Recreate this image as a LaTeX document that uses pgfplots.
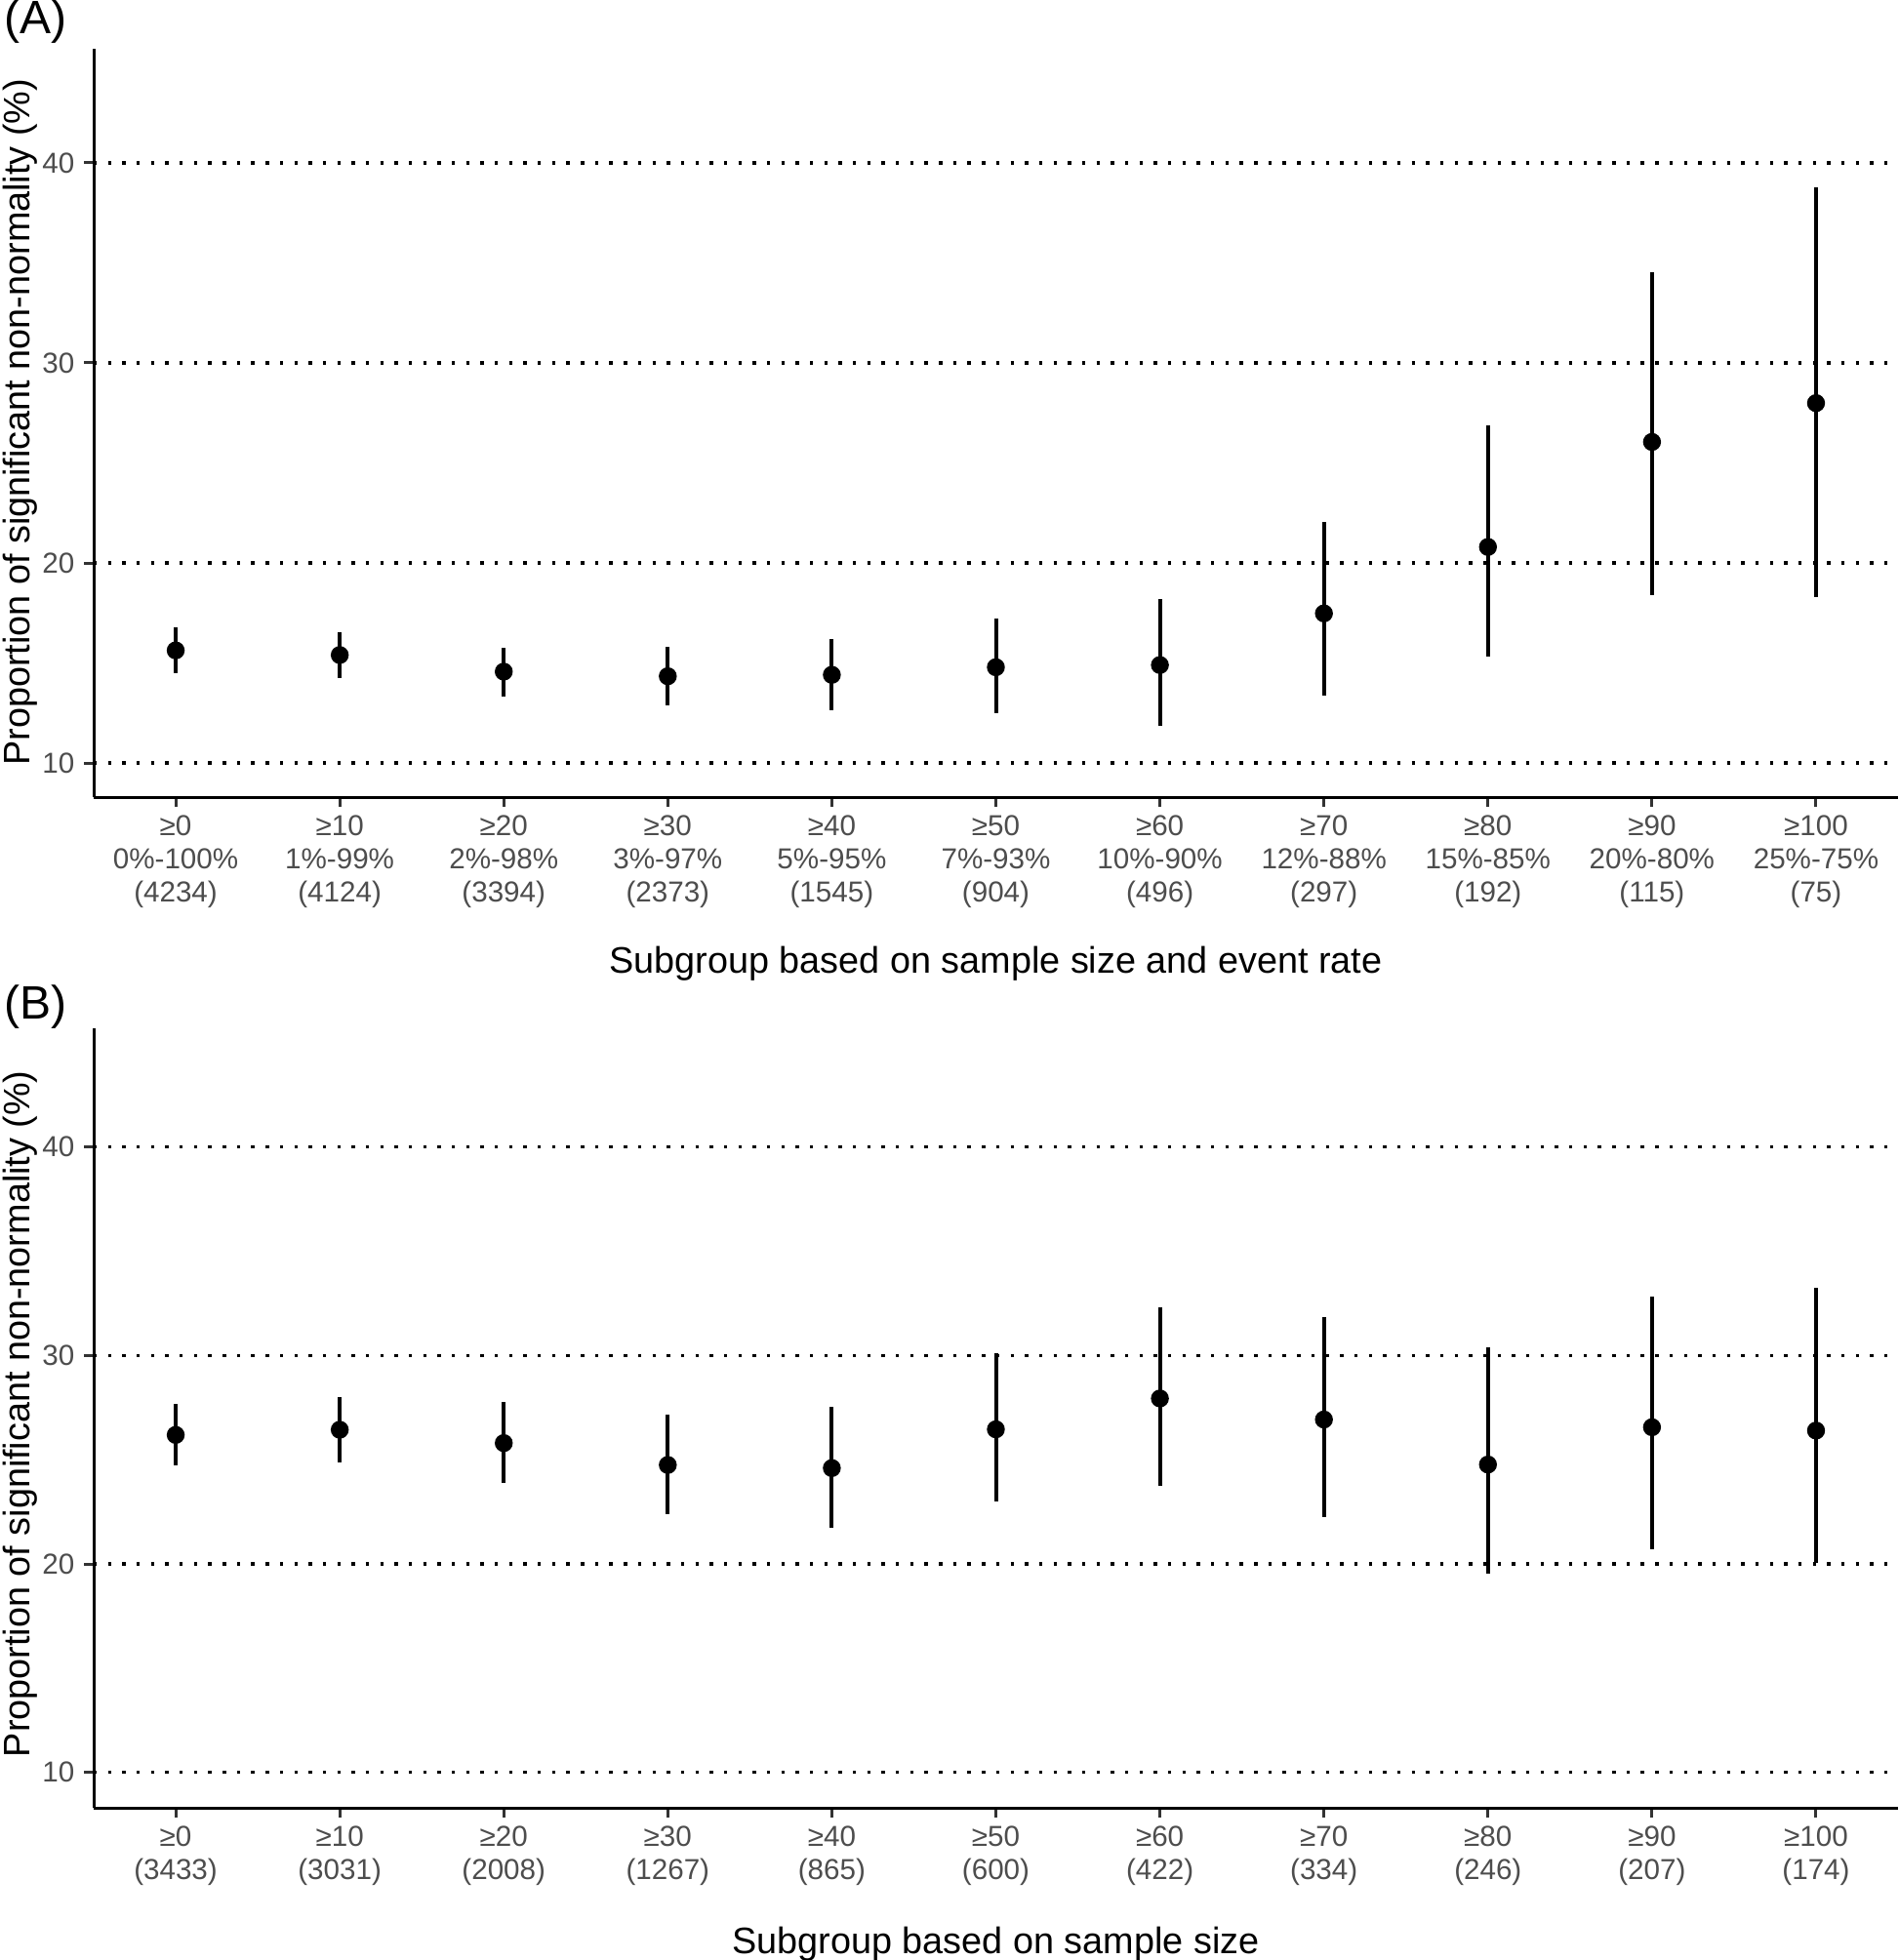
\documentclass[border=0pt]{standalone}
\usepackage{pgfplots}
\usepackage{pgfplotstable}
\pgfplotsset{compat=1.18}
\usepackage{fontspec}
\setmainfont{Liberation Sans}
\definecolor{tickgray}{HTML}{4D4D4D}
\definecolor{tickmark}{HTML}{333333}

\pgfplotstableread{
x y lo hi
1 15.63 14.48 16.77
2 15.40 14.24 16.53
3 14.57 13.32 15.78
4 14.34 12.88 15.79
5 14.41 12.66 16.21
6 14.79 12.48 17.21
7 14.90 11.84 18.18
8 17.48 13.35 22.04
9 20.80 15.30 26.90
10 26.05 18.40 34.55
11 27.99 18.30 38.77
}\dataA

\pgfplotstableread{
x y lo hi
1 26.19 24.71 27.68
2 26.44 24.85 28.02
3 25.80 23.87 27.79
4 24.75 22.37 27.18
5 24.60 21.74 27.53
6 26.46 23.01 30.09
7 27.94 23.76 32.33
8 26.93 22.25 31.83
9 24.77 19.54 30.38
10 26.56 20.69 32.81
11 26.40 20.07 33.26
}\dataB

\pgfplotsset{
  panel/.style={
    scale only axis, width=462.25pt,
    xmin=0.5, xmax=11.5, ymin=8.3, ymax=45.7,
    axis x line*=bottom, axis y line*=left,
    axis line style={line width=0.75pt, black, -},
    tick align=outside, major tick length=2.5pt,
    tick style={line width=0.75pt, tickmark},
    xtick={1,...,11}, ytick={10,20,30,40},
    ymajorgrids,
    major grid style={black, line width=0.85pt, dash pattern=on 0.85pt off 2.82pt},
    /pgf/number format/assume math mode=true,
    yticklabel style={font=\fontsize{7.4}{8.5}\selectfont, text=tickgray, inner sep=0pt, anchor=east, xshift=-2.2pt},
    xticklabel style={font=\fontsize{7.4}{8.5}\selectfont, text=tickgray, align=center, inner sep=0pt, anchor=north, yshift=-2.0pt},
    clip=false,
  },
  pr/.style={only marks, mark=*, mark size=2.1pt, black, mark options={fill=black, draw=black},
    error bars/.cd, y dir=both, y explicit, error mark=none,
    error bar style={line width=1pt, black}},
}

\begin{document}
\begin{tikzpicture}
\useasboundingbox (0,0) rectangle (486.25pt,-502.25pt);

\begin{axis}[panel, height=191.75pt, at={(24pt,-204.25pt)}, anchor=south west,
  xticklabels={{≥0\\0\%-100\%\\(4234)},{≥10\\1\%-99\%\\(4124)},{≥20\\2\%-98\%\\(3394)},{≥30\\3\%-97\%\\(2373)},{≥40\\5\%-95\%\\(1545)},{≥50\\7\%-93\%\\(904)},{≥60\\10\%-90\%\\(496)},{≥70\\12\%-88\%\\(297)},{≥80\\15\%-85\%\\(192)},{≥90\\20\%-80\%\\(115)},{≥100\\25\%-75\%\\(75)}}]
\addplot[pr] table[x=x, y=y, y error plus expr=\thisrow{hi}-\thisrow{y}, y error minus expr=\thisrow{y}-\thisrow{lo}] {\dataA};
\end{axis}

\begin{axis}[panel, height=199.75pt, at={(24pt,-463.25pt)}, anchor=south west,
  xticklabels={{≥0\\(3433)},{≥10\\(3031)},{≥20\\(2008)},{≥30\\(1267)},{≥40\\(865)},{≥50\\(600)},{≥60\\(422)},{≥70\\(334)},{≥80\\(246)},{≥90\\(207)},{≥100\\(174)}}]
\addplot[pr] table[x=x, y=y, y error plus expr=\thisrow{hi}-\thisrow{y}, y error minus expr=\thisrow{y}-\thisrow{lo}] {\dataB};
\end{axis}

\node[anchor=base west, inner sep=0pt, font=\fontsize{12}{14}\selectfont] at (1pt,-8.7pt) {(A)};
\node[anchor=base west, inner sep=0pt, font=\fontsize{12}{14}\selectfont] at (1pt,-261pt) {(B)};

\node[anchor=base, inner sep=0pt, font=\fontsize{9.45}{11}\selectfont] at (255.1pt,-249.25pt) {Subgroup based on sample size and event rate};
\node[anchor=base, inner sep=0pt, font=\fontsize{9.45}{11}\selectfont] at (255.1pt,-500.5pt) {Subgroup based on sample size};

\node[rotate=90, anchor=base, inner sep=0pt, font=\fontsize{9.45}{11}\selectfont] at (7.6pt,-108.2pt) {Proportion of significant non-normality (\%)};
\node[rotate=90, anchor=base, inner sep=0pt, font=\fontsize{9.45}{11}\selectfont] at (7.6pt,-362.3pt) {Proportion of significant non-normality (\%)};
\end{tikzpicture}
\end{document}
